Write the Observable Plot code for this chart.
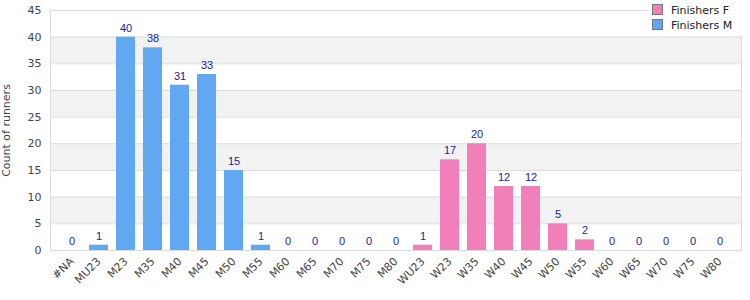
<!DOCTYPE html>
<html><head><meta charset="utf-8">
<script src="https://cdn.jsdelivr.net/npm/d3@7"></script>
<script src="https://cdn.jsdelivr.net/npm/@observablehq/plot@0.6"></script>
<style>
body{margin:0;background:#fff;font-family:"DejaVu Sans",sans-serif;}
#wrap{position:relative;width:750px;height:300px;}
#legend{position:absolute;left:648px;top:1px;width:92px;background:#fff;font-size:11px;color:#222;line-height:15px;padding:2px 0 2px 4px;}
#legend .sw{display:inline-block;width:9px;height:9px;border:1px solid #777;margin-right:8px;vertical-align:-1px;}
</style></head>
<body><div id="wrap"><div id="chart"></div><div id="legend"></div></div>
<script>
const categories = ["#NA","MU23","M23","M35","M40","M45","M50","M55","M60","M65","M70","M75","M80","WU23","W23","W35","W40","W45","W50","W55","W60","W65","W70","W75","W80"];
const counts = [0,1,40,38,31,33,15,1,0,0,0,0,0,1,17,20,12,12,5,2,0,0,0,0,0];
const series = ["M","M","M","M","M","M","M","M","M","M","M","M","M","F","F","F","F","F","F","F","F","F","F","F","F"];
const seriesNames = ["Finishers F","Finishers M"];
const seriesKeys = ["F","M"];
const colors = {F:"#f07fba", M:"#60a8f2"};
const yTicks = [0,5,10,15,20,25,30,35,40,45];
const bandStarts = [5,15,25,35];

const data = categories.map((c,i)=>({cat:c, n:counts[i], s:series[i]}));
const bands = bandStarts.map(b=>({y1:b, y2:b+5}));

const chart = Plot.plot({
  width:750, height:300,
  marginLeft:50, marginRight:9, marginTop:10, marginBottom:50,
  style:{fontFamily:"DejaVu Sans, sans-serif", fontSize:"11px", color:"#444"},
  x:{domain:categories, padding:0.28, label:null},
  y:{domain:[0,45]},
  marks:[
    Plot.rect(bands,{y1:"y1", y2:"y2", fill:"#f2f2f2"}),
    Plot.ruleY(yTicks,{stroke:"#dcdcdc"}),
    Plot.frame({stroke:"#dcdcdc"}),
    Plot.barY(data,{x:"cat", y:"n", fill:d=>colors[d.s]}),
    Plot.text(data,{x:"cat", y:"n", text:d=>String(d.n), dy:-9, fill:"#1a1a99", fontSize:11, fontFamily:"Liberation Sans, Arial, sans-serif"}),
    Plot.axisX({tickRotate:-45, tickSize:0, tickPadding:9, fill:"#444", label:null}),
    Plot.axisY({ticks:yTicks, tickSize:0, tickPadding:9, fill:"#444", label:"Count of runners", labelAnchor:"center", labelArrow:"none", labelOffset:48})
  ]
});
document.getElementById("chart").appendChild(chart);
const lg = document.getElementById("legend");
seriesKeys.forEach((k,i)=>{
  const row=document.createElement("div");
  row.innerHTML=`<span class="sw" style="background:${colors[k]}"></span>${seriesNames[i]}`;
  lg.appendChild(row);
});
</script></body></html>
